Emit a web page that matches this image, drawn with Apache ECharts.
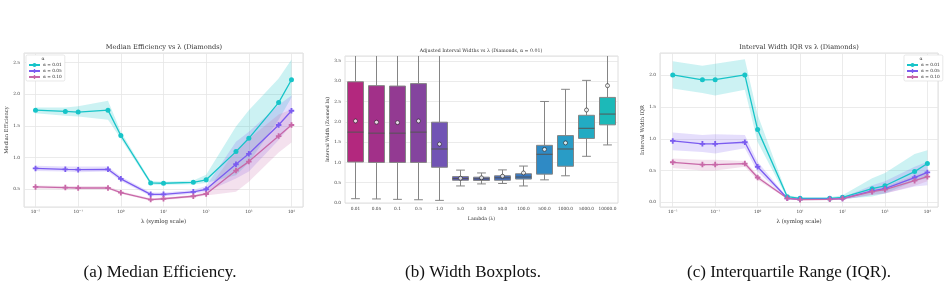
<!DOCTYPE html>
<html>
<head>
<meta charset="utf-8">
<script src="https://cdn.jsdelivr.net/npm/echarts@6/dist/echarts.min.js"></script>
<style>
  html, body { margin: 0; padding: 0; background: #fff; }
  #main { width: 947px; height: 292px; }
</style>
</head>
<body>
<div id="main"></div>
<script>
// lambda grid shared by all three panels
const lambdas = [0.01, 0.05, 0.1, 0.5, 1, 5, 10, 50, 100, 500, 1000, 5000, 10000];
const seriesNames = ["α = 0.01", "α = 0.05", "α = 0.10"];

// (a) median efficiency, with band
const effMed001 = [1.75, 1.73, 1.72, 1.75, 1.35, 0.60, 0.595, 0.61, 0.65, 1.095, 1.305, 1.87, 2.23];
const effLo001 = [1.70, 1.66, 1.65, 1.60, 1.30, 0.57, 0.57, 0.58, 0.60, 0.72, 0.92, 1.60, 1.95];
const effHi001 = [1.79, 1.79, 1.81, 1.90, 1.41, 0.63, 0.62, 0.64, 0.73, 1.49, 1.75, 2.25, 2.55];
const effMed005 = [0.83, 0.815, 0.81, 0.815, 0.665, 0.42, 0.42, 0.46, 0.50, 0.895, 1.06, 1.515, 1.74];
const effLo005 = [0.79, 0.78, 0.77, 0.78, 0.63, 0.39, 0.39, 0.43, 0.46, 0.67, 0.78, 1.28, 1.52];
const effHi005 = [0.87, 0.86, 0.86, 0.86, 0.70, 0.45, 0.45, 0.49, 0.55, 1.25, 1.41, 1.83, 1.98];
const effMed010 = [0.537, 0.527, 0.52, 0.52, 0.447, 0.337, 0.35, 0.39, 0.426, 0.795, 0.937, 1.34, 1.515];
const effLo010 = [0.51, 0.50, 0.50, 0.50, 0.43, 0.32, 0.33, 0.37, 0.40, 0.46, 0.62, 1.08, 1.24];
const effHi010 = [0.56, 0.55, 0.55, 0.55, 0.47, 0.36, 0.37, 0.41, 0.46, 1.12, 1.30, 1.68, 1.76];

// (b) interval width boxplots, alpha = 0.01
const boxCats = ["0.01", "0.05", "0.1", "0.5", "1.0", "5.0", "10.0", "50.0", "100.0", "500.0", "1000.0", "5000.0", "10000.0"];
const boxLow = [0.106, 0.10, 0.09, 0.08, 0.065, 0.42, 0.47, 0.48, 0.42, 0.57, 0.67, 1.15, 1.43];
const boxQ1 = [1.01, 1.0, 1.0, 1.0, 0.88, 0.56, 0.555, 0.56, 0.59, 0.71, 0.905, 1.59, 1.925];
const boxMed = [1.745, 1.72, 1.72, 1.745, 1.33, 0.60, 0.595, 0.62, 0.64, 1.2, 1.33, 1.84, 2.19];
const boxQ3 = [2.985, 2.89, 2.88, 2.94, 1.99, 0.65, 0.636, 0.67, 0.72, 1.42, 1.66, 2.16, 2.6];
const boxHigh = [5.9, 5.7, 5.7, 5.8, 3.65, 0.81, 0.74, 0.815, 0.91, 2.5, 2.8, 3.02, 3.65];
const boxMean = [2.02, 1.99, 1.98, 2.02, 1.45, 0.61, 0.62, 0.66, 0.74, 1.32, 1.48, 2.29, 2.89];
const boxColors = ["#b3287e", "#a23089", "#933a92", "#84449e", "#7154b4", "#5b5ab8", "#4d61bb", "#406bbf",
  "#3779c3", "#2f8ac5", "#299cc6", "#22abc3", "#1cb9b8"];

// (c) interval width IQR, with band
const iqrMed001 = [2.005, 1.927, 1.93, 2.005, 1.144, 0.089, 0.063, 0.063, 0.079, 0.215, 0.26, 0.483, 0.61];
const iqrLo001 = [1.79, 1.72, 1.68, 1.77, 0.95, 0.06, 0.05, 0.05, 0.05, 0.09, 0.14, 0.33, 0.38];
const iqrHi001 = [2.22, 2.15, 2.18, 2.25, 1.38, 0.11, 0.08, 0.08, 0.11, 0.38, 0.46, 0.76, 0.82];
const iqrMed005 = [0.966, 0.92, 0.92, 0.945, 0.56, 0.063, 0.047, 0.052, 0.058, 0.178, 0.215, 0.39, 0.47];
const iqrLo005 = [0.82, 0.79, 0.77, 0.85, 0.48, 0.045, 0.035, 0.04, 0.04, 0.12, 0.14, 0.25, 0.27];
const iqrHi005 = [1.10, 1.06, 1.07, 1.06, 0.64, 0.08, 0.06, 0.065, 0.075, 0.27, 0.33, 0.56, 0.64];
const iqrMed010 = [0.63, 0.593, 0.593, 0.61, 0.39, 0.063, 0.042, 0.047, 0.058, 0.168, 0.2, 0.34, 0.404];
const iqrLo010 = [0.54, 0.50, 0.50, 0.56, 0.35, 0.05, 0.03, 0.035, 0.045, 0.115, 0.14, 0.26, 0.33];
const iqrHi010 = [0.69, 0.67, 0.67, 0.65, 0.43, 0.075, 0.055, 0.06, 0.07, 0.20, 0.25, 0.42, 0.48];

const lineColors = ["#17c4c8", "#7b5cf0", "#c868a8"];
const bandColors = ["rgba(23,196,200,0.22)", "rgba(123,92,240,0.2)", "rgba(200,104,168,0.2)"];
const plusPath = "path://M2,0H4V2H6V4H4V6H2V4H0V2H2Z";
const symbols = ["circle", plusPath, plusPath];

const serif = "DejaVu Serif";
const gridLine = "#e6e6e6";
const frame = "#d6d6d6";

const chartDom = document.getElementById("main");
const myChart = echarts.init(chartDom, null, { renderer: "canvas" });

const sup = { "-": "⁻", "0": "⁰", "1": "¹", "2": "²", "3": "³", "4": "⁴" };
function logLabel(v) {
  const e = Math.log10(v);
  const r = Math.round(e);
  if (Math.abs(e - r) > 1e-6) return "";
  return "10" + String(r).split("").map((c) => sup[c]).join("");
}
function halfLabel(v) {
  if (Math.abs(v * 2 - Math.round(v * 2)) > 1e-6) return "";
  return v.toFixed(1);
}

function logXAxis(gridIndex, min, max) {
  return {
    type: "log", logBase: 10, gridIndex, min, max, splitNumber: 7,
    name: "λ (symlog scale)", nameLocation: "middle", nameGap: 9,
    nameTextStyle: { fontFamily: serif, fontSize: 5.5, color: "#333" },
    axisLine: { show: false }, axisTick: { show: false },
    axisLabel: { fontFamily: serif, fontSize: 4.3, color: "#444", margin: 3, formatter: logLabel },
    splitLine: { show: true, lineStyle: { color: gridLine, width: 0.8 } },
    minorSplitLine: { show: false },
  };
}
function valYAxis(gridIndex, min, max, name, extra) {
  return Object.assign({
    type: "value", gridIndex, min, max, splitNumber: 5,
    name, nameLocation: "middle", nameGap: 12,
    nameTextStyle: { fontFamily: serif, fontSize: 5.2, color: "#333" },
    axisLine: { show: false }, axisTick: { show: false },
    axisLabel: { fontFamily: serif, fontSize: 4.3, color: "#444", margin: 4, formatter: halfLabel },
    splitLine: { show: true, lineStyle: { color: gridLine, width: 0.8 } },
  }, extra || {});
}

function bandSeries(id, lo, hi, color, axisIdx) {
  return {
    id, type: "custom", xAxisIndex: axisIdx, yAxisIndex: axisIdx, silent: true, z: 1,
    data: lambdas.map((l, i) => [l, lo[i], hi[i]]),
    encode: { x: 0, y: [1, 2] },
    renderItem: (params, api) => {
      if (params.dataIndex !== 0) return null;
      const top = lambdas.map((l, i) => api.coord([l, hi[i]]));
      const bot = lambdas.map((l, i) => api.coord([l, lo[i]])).reverse();
      return { type: "polygon", shape: { points: top.concat(bot) }, style: { fill: color } };
    },
  };
}
function lineSeries(k, med, axisIdx) {
  return {
    name: seriesNames[k], type: "line", xAxisIndex: axisIdx, yAxisIndex: axisIdx, z: 3,
    data: lambdas.map((l, i) => [l, med[i]]),
    symbol: symbols[k], symbolSize: k === 0 ? 5 : 5.5,
    itemStyle: { color: lineColors[k] },
    lineStyle: { color: lineColors[k], width: 1.3 },
    emphasis: { disabled: true },
  };
}

const boxData = boxCats.map((c, i) => [i, boxLow[i], boxQ1[i], boxMed[i], boxQ3[i], boxHigh[i]]);

const legendBase = {
  orient: "vertical", top: 55, padding: [8, 3, 2, 2],
  itemWidth: 11, itemHeight: 5, itemGap: 2,
  textStyle: { fontFamily: serif, fontSize: 4.3, color: "#333", padding: [0, 0, 0, -2] },
  backgroundColor: "#fff", borderColor: "#d9d9d9", borderWidth: 0.6, borderRadius: 1.5,
  data: seriesNames, selectedMode: false,
};

const titleStyle = (size) => ({ fontFamily: serif, fontSize: size, fontWeight: "normal", color: "#333" });
const capStyle = { fontFamily: "Liberation Serif", fontSize: 17, fontWeight: "normal", color: "#111" };

const option = {
  animation: false,
  backgroundColor: "#fff",
  title: [
    { text: "Median Efficiency vs λ (Diamonds)", left: 164, top: 44, textAlign: "center", padding: 0, textStyle: titleStyle(6.6) },
    { text: "Adjusted Interval Widths vs λ (Diamonds, α = 0.01)", left: 481, top: 48.5, textAlign: "center", padding: 0, textStyle: titleStyle(4.7) },
    { text: "Interval Width IQR vs λ (Diamonds)", left: 799, top: 44, textAlign: "center", padding: 0, textStyle: titleStyle(6.6) },
    { text: "α", left: 43, top: 56, textAlign: "center", padding: 0, textStyle: titleStyle(4.5) },
    { text: "α", left: 921, top: 56, textAlign: "center", padding: 0, textStyle: titleStyle(4.5) },
    { text: "(a) Median Efficiency.", left: 160, top: 264, textAlign: "center", padding: 0, textStyle: capStyle },
    { text: "(b) Width Boxplots.", left: 473, top: 264, textAlign: "center", padding: 0, textStyle: capStyle },
    { text: "(c) Interquartile Range (IQR).", left: 789, top: 264, textAlign: "center", padding: 0, textStyle: capStyle },
  ],
  legend: [
    Object.assign({ left: 26 }, legendBase),
    Object.assign({ left: 904 }, legendBase),
  ],
  grid: [
    { left: 24, top: 53, width: 279, height: 154, show: true, borderColor: frame, borderWidth: 0.8, backgroundColor: "transparent" },
    { left: 345, top: 56, width: 273, height: 147, show: true, borderColor: frame, borderWidth: 0.8, backgroundColor: "transparent" },
    { left: 660, top: 53, width: 278, height: 154, show: true, borderColor: frame, borderWidth: 0.8, backgroundColor: "transparent" },
  ],
  xAxis: [
    logXAxis(0, Math.pow(10, -2.27), Math.pow(10, 4.27)),
    {
      type: "category", gridIndex: 1, data: boxCats, boundaryGap: true,
      name: "Lambda (λ)", nameLocation: "middle", nameGap: 9,
      nameTextStyle: { fontFamily: serif, fontSize: 4.7, color: "#333" },
      axisLine: { show: false }, axisTick: { show: false },
      axisLabel: { fontFamily: serif, fontSize: 4.3, color: "#444", margin: 4, interval: 0 },
      splitLine: { show: false },
    },
    logXAxis(2, Math.pow(10, -2.3), Math.pow(10, 4.25)),
  ],
  yAxis: [
    valYAxis(0, 0.22, 2.653, "Median Efficiency"),
    valYAxis(1, 0, 3.62, "Interval Width (Zoomed In)", { interval: 0.5, nameGap: 11, nameTextStyle: { fontFamily: serif, fontSize: 4.7, color: "#333" } }),
    valYAxis(2, -0.074, 2.35, "Interval Width IQR"),
  ],
  series: [
    bandSeries("ba0", effLo001, effHi001, bandColors[0], 0),
    bandSeries("ba1", effLo005, effHi005, bandColors[1], 0),
    bandSeries("ba2", effLo010, effHi010, bandColors[2], 0),
    lineSeries(0, effMed001, 0),
    lineSeries(1, effMed005, 0),
    lineSeries(2, effMed010, 0),

    {
      id: "boxes", type: "custom", xAxisIndex: 1, yAxisIndex: 1, clip: true, z: 2,
      data: boxData,
      encode: { x: 0, y: [1, 2, 3, 4, 5] },
      renderItem: (params, api) => {
        const i = api.value(0);
        const bw = api.size([1, 0])[0] * 0.76;
        const cw = bw * 0.55;
        const pLo = api.coord([i, api.value(1)]);
        const pQ1 = api.coord([i, api.value(2)]);
        const pMd = api.coord([i, api.value(3)]);
        const pQ3 = api.coord([i, api.value(4)]);
        const pHi = api.coord([i, api.value(5)]);
        const x = pMd[0];
        const stroke = "#858585";
        const ls = { stroke, lineWidth: 1 };
        return {
          type: "group",
          children: [
            { type: "line", shape: { x1: x, y1: pLo[1], x2: x, y2: pQ1[1] }, style: ls },
            { type: "line", shape: { x1: x, y1: pQ3[1], x2: x, y2: pHi[1] }, style: ls },
            { type: "line", shape: { x1: x - cw / 2, y1: pLo[1], x2: x + cw / 2, y2: pLo[1] }, style: ls },
            { type: "line", shape: { x1: x - cw / 2, y1: pHi[1], x2: x + cw / 2, y2: pHi[1] }, style: ls },
            { type: "rect", shape: { x: x - bw / 2, y: pQ3[1], width: bw, height: pQ1[1] - pQ3[1] },
              style: { fill: boxColors[params.dataIndex], stroke, lineWidth: 1 } },
            { type: "line", shape: { x1: x - bw / 2, y1: pMd[1], x2: x + bw / 2, y2: pMd[1] }, style: { stroke: "#555", lineWidth: 1 } },
          ],
        };
      },
    },
    {
      id: "means", type: "scatter", xAxisIndex: 1, yAxisIndex: 1, z: 5,
      data: boxMean.map((m, i) => [i, m]),
      symbol: "circle", symbolSize: 4,
      itemStyle: { color: "#fff", borderColor: "#222", borderWidth: 0.8 },
    },

    bandSeries("bc0", iqrLo001, iqrHi001, bandColors[0], 2),
    bandSeries("bc1", iqrLo005, iqrHi005, bandColors[1], 2),
    bandSeries("bc2", iqrLo010, iqrHi010, bandColors[2], 2),
    lineSeries(0, iqrMed001, 2),
    lineSeries(1, iqrMed005, 2),
    lineSeries(2, iqrMed010, 2),
  ],
};

myChart.setOption(option);
</script>
</body>
</html>
